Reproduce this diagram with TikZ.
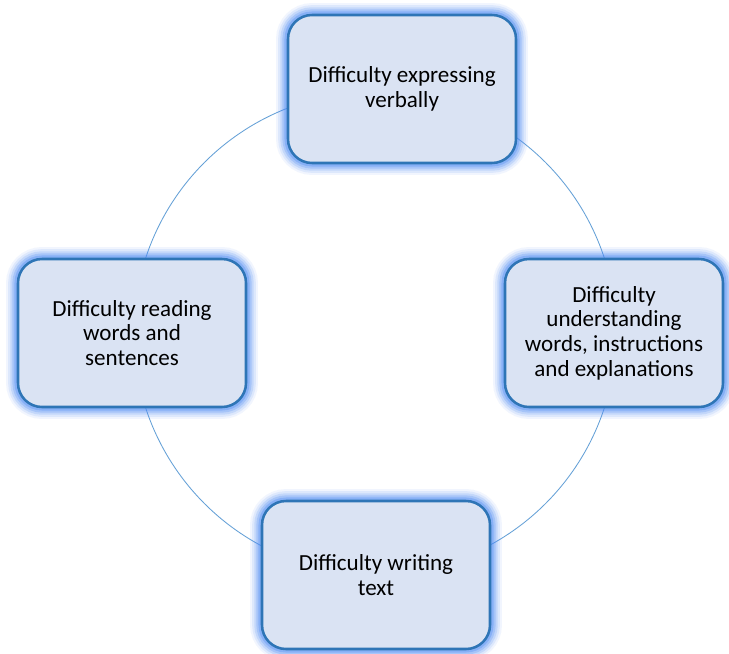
\documentclass[tikz,border=0pt]{standalone}
\usepackage{fontspec}
\setmainfont{Carlito}
\usetikzlibrary{
    positioning
}

\definecolor{boxfill}{RGB}{218,227,243}
\definecolor{boxline}{RGB}{46,117,182}
\definecolor{glowblue}{RGB}{80,140,245}
\definecolor{ringblue}{RGB}{100,160,215}

\tikzset{
    diffbox/.style={
        draw=boxline, line width=1.8pt, fill=boxfill,
        rounded corners=0.6cm,
        minimum width=5.7cm, minimum height=3.7cm,
        align=center, font=\fontsize{16.4}{17.5}\selectfont,
        preaction={draw=glowblue, line width=17pt, opacity=.08},
        preaction={draw=glowblue, line width=14pt, opacity=.12},
        preaction={draw=glowblue, line width=11pt, opacity=.18},
        preaction={draw=glowblue, line width=8pt, opacity=.25},
        preaction={draw=glowblue, line width=5pt, opacity=.35}
    }
}

\begin{document}
\begin{tikzpicture}
    \useasboundingbox[fill=white] (0,0) rectangle (18.225,16.325);

    \coordinate (centre) at (9.375,8.0);
    \draw[ringblue,line width=0.6pt] (centre) circle [radius=6.03cm];

    \node[diffbox] (verbal) at (10.05,14.1) {Difficulty expressing\\verbally};
    \node[diffbox] (reading) at (3.3,8.0) {Difficulty reading\\words and\\sentences};
    \node[diffbox,minimum width=5.45cm] (understand) at (15.35,8.0)
        {Difficulty\\understanding\\words, instructions\\and explanations};
    \node[diffbox] (writing) at (9.4,1.95) {Difficulty writing\\text};
\end{tikzpicture}
\end{document}
